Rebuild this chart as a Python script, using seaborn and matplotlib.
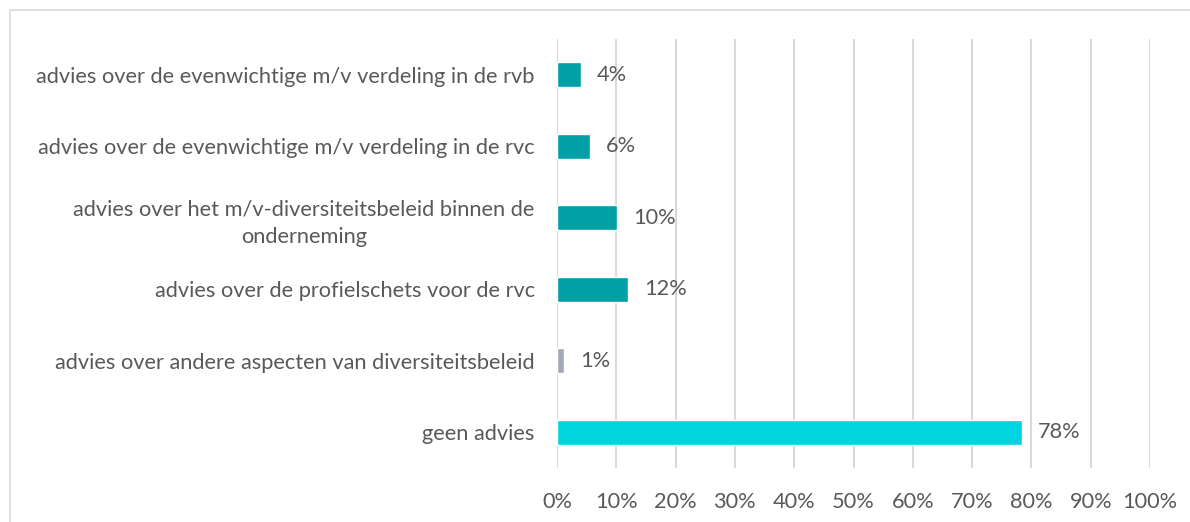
import matplotlib
matplotlib.use("Agg")
import matplotlib.pyplot as plt
import seaborn as sns
import pandas as pd
from matplotlib.patches import Rectangle

# Data (percent of respondents)
categories = [
    "advies over de evenwichtige m/v verdeling in de rvb",
    "advies over de evenwichtige m/v verdeling in de rvc",
    "advies over het m/v-diversiteitsbeleid binnen de\nonderneming",
    "advies over de profielschets voor de rvc",
    "advies over andere aspecten van diversiteitsbeleid",
    "geen advies",
]
values = [4.0, 5.6, 10.1, 12.0, 1.2, 78.4]
bar_colors = ["#00A0A6", "#00A0A6", "#00A0A6", "#00A0A6", "#A3A9B6", "#00D4DE"]
x_ticks = list(range(0, 101, 10))

df = pd.DataFrame({"categorie": categories, "pct": values})

sns.set_style("white")
plt.rcParams["font.family"] = ["Lato", "DejaVu Sans"]
text_color = "#595959"
fs = 15.7

fig = plt.figure(figsize=(11.9, 5.22), dpi=100)
ax = fig.add_axes([557 / 1190, 1 - 468 / 522, (1150 - 557) / 1190, (468 - 39) / 522])

sns.barplot(
    data=df, y="categorie", x="pct", hue="categorie",
    palette=bar_colors, orient="h", width=0.35, legend=False, ax=ax,
    saturation=1,
)

# value labels next to the bars
for i, v in enumerate(values):
    ax.annotate(f"{v:.0f}%", (v, i), xytext=(11.5, 0), textcoords="offset points",
                va="center", ha="left", fontsize=fs, color=text_color)

ax.set_xlim(0, 100)
ax.set_ylim(5.5, -0.5)
ax.set_xticks(x_ticks)
ax.set_xticklabels([f"{t}%" for t in x_ticks])
ax.set_xlabel("")
ax.set_ylabel("")
ax.grid(axis="x", color="#D9D9D9", linewidth=1.5)
ax.grid(axis="y", visible=False)
ax.set_axisbelow(True)
for s in ax.spines.values():
    s.set_visible(False)
ax.tick_params(axis="x", length=0, pad=17, labelsize=fs, labelcolor=text_color)
ax.tick_params(axis="y", length=0, pad=16, labelsize=fs, labelcolor=text_color)
for lbl in ax.get_yticklabels():
    lbl.set_multialignment("center")
    lbl.set_linespacing(1.45)

# light chart-area border
fig.patches.append(Rectangle((10 / 1190, -0.1), 1.2, 1.1 - 10 / 522,
                             transform=fig.transFigure, fill=False,
                             edgecolor="#D9D9D9", linewidth=1.2))

fig.savefig("out.png", dpi=100)
